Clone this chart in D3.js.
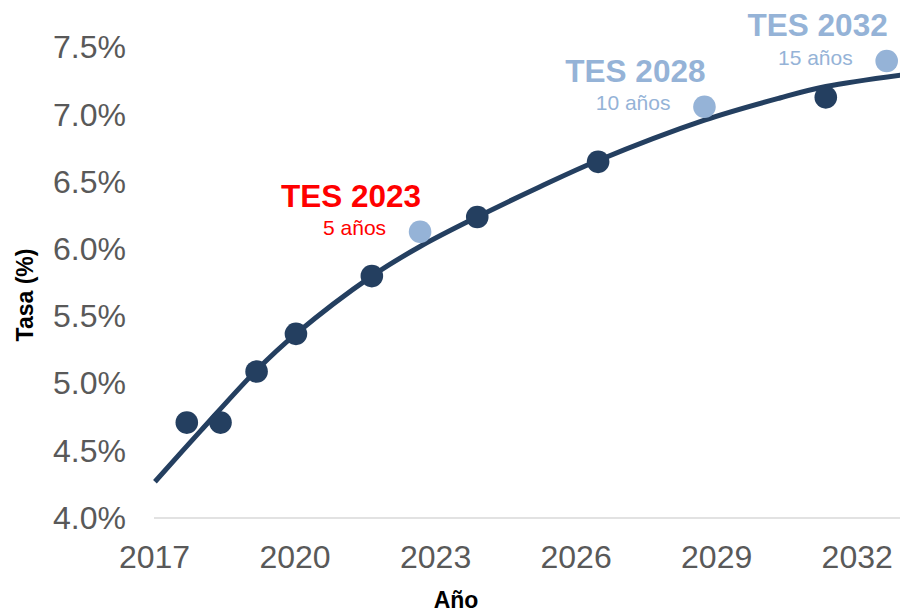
<!DOCTYPE html>
<html>
<head>
<meta charset="utf-8">
<script src="https://cdn.jsdelivr.net/npm/d3@7"></script>
<style>
	body { margin: 0; background: #fff; }
	svg { display: block; font-family: "Liberation Sans", Arial, sans-serif; }
</style>
</head>
<body>
<div id="chart"></div>
<script>
// bonds (year of maturity as decimal, rate in %)
var bondYears = [2017.70, 2018.42, 2019.19, 2020.03, 2021.65, 2022.68, 2023.90, 2026.48, 2028.75, 2031.34, 2032.64]
var bondRates = [4.71, 4.71, 5.09, 5.37, 5.80, 6.13, 6.24, 6.65, 7.06, 7.13, 7.40]
var bondLabels = ["", "", "", "", "", "TES 2023", "", "", "TES 2028", "", "TES 2032"]
var bondTerms = ["", "", "", "", "", "5 años", "", "", "10 años", "", "15 años"]

// trendline
var trendYears = [2017.02, 2018.00, 2019.19, 2020.03, 2021.65, 2022.68, 2023.90, 2025.24, 2026.48, 2028.75, 2030.36, 2031.34, 2033.26]
var trendRates = [4.27, 4.65, 5.10, 5.37, 5.80, 6.02, 6.24, 6.465, 6.66, 6.96, 7.125, 7.21, 7.31]

var xTicks = [2017, 2020, 2023, 2026, 2029, 2032]
var yTicks = [4.0, 4.5, 5.0, 5.5, 6.0, 6.5, 7.0, 7.5]

var curva = {
	width: 900,
	height: 614,
	colors: {
		dark: "#243F60",
		light: "#95B3D7",
		first: "#FF0000",
		tick: "#595959",
		axis: "#D9D9D9"
	}
}

curva.svg = d3.select("#chart")
	.append("svg")
	.attr("width", curva.width)
	.attr("height", curva.height)

curva.x = d3.scaleLinear()
	.domain([2017, 2032])
	.range([154, 856.7])

curva.y = d3.scaleLinear()
	.domain([4.0, 7.5])
	.range([518, 47.6])

curva.drawAxes = function() {
	var xAxis = d3.axisBottom(curva.x)
		.tickValues(xTicks)
		.tickFormat(d3.format("d"))
		.tickSize(0)
		.tickPadding(27)

	var gx = curva.svg.append("g")
		.attr("transform", "translate(0," + curva.y(4.0) + ")")
		.call(xAxis)
	gx.select(".domain").remove()
	gx.append("line")
		.attr("x1", curva.x(2017))
		.attr("x2", curva.width)
		.attr("stroke", curva.colors.axis)
		.attr("stroke-width", 1.5)

	var yAxis = d3.axisLeft(curva.y)
		.tickValues(yTicks)
		.tickFormat(function(d){ return d3.format(".1f")(d) + "%" })
		.tickSize(0)
		.tickPadding(28)

	var gy = curva.svg.append("g")
		.attr("transform", "translate(" + curva.x(2017) + ",0)")
		.call(yAxis)
	gy.select(".domain").remove()

	curva.svg.selectAll(".tick text")
		.attr("font-family", "Liberation Sans, Arial, sans-serif")
		.attr("font-size", 32)
		.attr("fill", curva.colors.tick)

	curva.svg.append("text")
		.attr("x", 456)
		.attr("y", 608)
		.attr("text-anchor", "middle")
		.attr("font-size", 23)
		.attr("font-weight", "bold")
		.attr("fill", "#000")
		.text("Año")

	curva.svg.append("text")
		.attr("transform", "translate(33,295) rotate(-90)")
		.attr("text-anchor", "middle")
		.attr("font-size", 23)
		.attr("font-weight", "bold")
		.attr("fill", "#000")
		.text("Tasa (%)")
}

curva.drawTrend = function() {
	var pts = trendYears.map(function(d, i){ return [d, trendRates[i]] })
	var line = d3.line()
		.x(function(d){ return curva.x(d[0]) })
		.y(function(d){ return curva.y(d[1]) })
		.curve(d3.curveCatmullRom.alpha(0.5))

	curva.svg.append("path")
		.datum(pts)
		.attr("d", line)
		.attr("fill", "none")
		.attr("stroke", curva.colors.dark)
		.attr("stroke-width", 5)
}

curva.drawBonds = function() {
	var bonds = bondYears.map(function(d, i){
		return {year: d, rate: bondRates[i], label: bondLabels[i], term: bondTerms[i]}
	})

	curva.svg.append("g")
		.selectAll("circle")
		.data(bonds)
		.enter()
		.append("circle")
		.attr("cx", function(d){ return curva.x(d.year) })
		.attr("cy", function(d){ return curva.y(d.rate) })
		.attr("r", 11.3)
		.attr("fill", function(d){
			return d.label ? curva.colors.light : curva.colors.dark
		})

	var tagged = bonds.filter(function(d){ return d.label })
	var tags = curva.svg.append("g")
		.selectAll("g")
		.data(tagged)
		.enter()
		.append("g")
		.attr("transform", function(d){
			return "translate(" + curva.x(d.year) + "," + curva.y(d.rate) + ")"
		})
		.attr("fill", function(d, i){
			return i == 0 ? curva.colors.first : curva.colors.light
		})
		.attr("text-anchor", "end")

	tags.append("text")
		.attr("x", 1)
		.attr("y", -25)
		.attr("font-size", 31.5)
		.attr("font-weight", "bold")
		.text(function(d){ return d.label })

	tags.append("text")
		.attr("x", -34)
		.attr("y", 3.5)
		.attr("font-size", 21)
		.text(function(d){ return d.term })
}

curva.drawAxes()
curva.drawTrend()
curva.drawBonds()
</script>
</body>
</html>
